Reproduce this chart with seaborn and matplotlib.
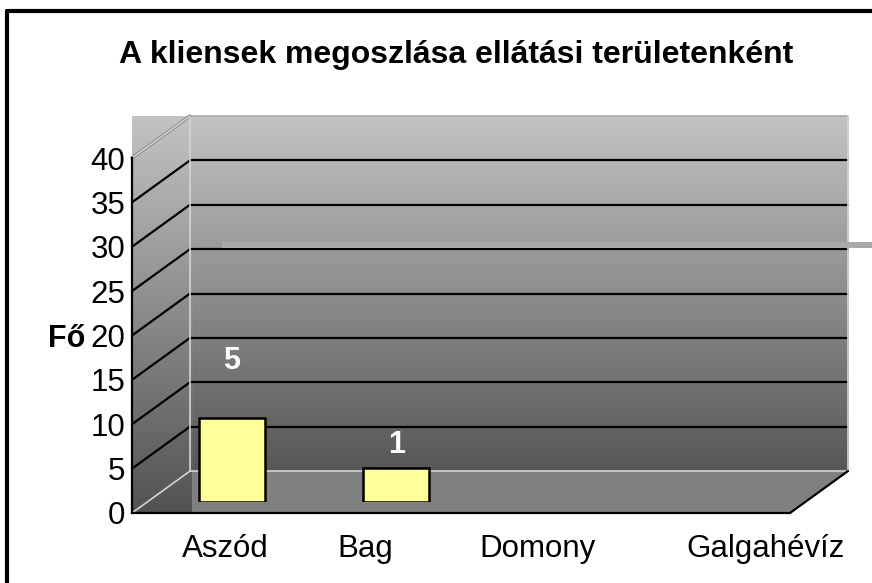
import numpy as np
import pandas as pd
import matplotlib
matplotlib.use("Agg")
import matplotlib.pyplot as plt
import matplotlib.transforms as mtransforms
from matplotlib.colors import LinearSegmentedColormap
from matplotlib.patches import Polygon
import seaborn as sns

# chart data
title = "A kliensek megoszlása ellátási területenként"
y_label = "Fő"
areas = ["Aszód", "Bag", "Domony", "Galgahévíz"]
bar_heights = [9.4, 3.8, 0.0, 0.0]     # bar tops as drawn against the axis
data_labels = ["5", "1", "", ""]       # numbers printed above the bars
y_ticks = [0, 5, 10, 15, 20, 25, 30, 35, 40]

W, H = 872, 583
sns.set_theme(style="white")
plt.rcParams["font.family"] = ["Liberation Sans", "DejaVu Sans"]

# pixel geometry of the fake 3D box (top-left origin)
FX0, FX1 = 132, 790          # front plane left/right
FY0, FY40 = 513, 158         # front plane y of 0 and 40
DX, DY = 58, -42             # depth offset to the back wall
BAR_DX, BAR_DY = 17.5, -11.5 # depth where the bars stand
LABEL_FACTOR = 1.68          # data label height relative to bar
label_shift = [11, -14, -6, 58]


def fig_rect(x0, y0, x1, y1):
    return [x0 / W, 1 - y1 / H, (x1 - x0) / W, (y1 - y0) / H]


def yf(v):
    return FY0 - v * (FY0 - FY40) / 40


fig = plt.figure(figsize=(W / 100, H / 100), dpi=100, facecolor="white")

# background decoration in pixel coords
deco = fig.add_axes([0, 0, 1, 1], zorder=0)
deco.set_xlim(0, W)
deco.set_ylim(H, 0)
deco.axis("off")

grad = np.linspace(0, 1, 256).reshape(-1, 1)
wall_cmap = LinearSegmentedColormap.from_list("wall", ["#c3c3c3", "#575757"])
side_cmap = LinearSegmentedColormap.from_list("side", ["#c3c3c3", "#525252"])

bx0, bx1 = FX0 + DX, FX1 + DX
by0, by40 = FY0 + DY, FY40 + DY
deco.imshow(grad, cmap=wall_cmap, extent=[bx0, bx1, by0, by40], aspect="auto", zorder=1)
# side wall, including the corner above it
deco.imshow(grad, cmap=side_cmap, extent=[FX0, bx0 + 2, FY0, by40], aspect="auto", zorder=1)

floor = Polygon([(bx0 + 2, by0), (bx1, by0), (FX1, FY0), (bx0 + 2, FY0)],
                closed=True, facecolor="#808080", edgecolor="none", zorder=2)
deco.add_patch(floor)

# grid lines on the side and back walls
for v in y_ticks:
    if v in (0, 40):
        continue
    deco.plot([FX0, bx0], [yf(v), yf(v) + DY], color="black", lw=1.6, zorder=3)
    deco.plot([bx0, bx1], [yf(v) + DY, yf(v) + DY], color="black", lw=1.6, zorder=3)

edge = "#d4d4d4"
deco.plot([FX0, bx0], [FY0, by0], color=edge, lw=1.2, zorder=3)
deco.plot([FX0, bx0], [FY40, by40], color="#8c8c8c", lw=2.4, zorder=3)
deco.plot([FX0, bx0], [FY40, by40], color="#e8e8e8", lw=0.8, zorder=3)
deco.plot([bx0, bx0], [by40, by0], color=edge, lw=1.2, zorder=3)
deco.plot([bx0, bx1], [by0, by0], color=edge, lw=1.2, zorder=3)
deco.plot([bx0, bx1], [by40, by40], color="#a8a8a8", lw=1.2, zorder=3)
deco.plot([bx1, bx1], [by40, by0], color=edge, lw=1.2, zorder=3)
deco.plot([FX1, bx1], [FY0, by0], color="black", lw=1.6, zorder=3)

# stray grey band at the 30 level
deco.fill_between([222, W], yf(30) - 5, yf(30) + 1, color="#a9a9a9", lw=0, zorder=3)

# outer frame
deco.plot([7, 7], [11, H], color="black", lw=3, zorder=3, clip_on=False)
deco.plot([7, W], [11, 11], color="black", lw=3, zorder=3, clip_on=False)

# front plane with the axes
ax = fig.add_axes(fig_rect(FX0, FY40, FX1, FY0), zorder=1)
ax.set_facecolor("none")
ax.set_xlim(-0.5, len(areas) - 0.5)
ax.set_ylim(0, 40)
for s in ["top", "right"]:
    ax.spines[s].set_visible(False)
for s in ["left", "bottom"]:
    ax.spines[s].set_color("black")
    ax.spines[s].set_linewidth(1.6)
ax.set_yticks(y_ticks)
ax.set_yticklabels([str(t) for t in y_ticks], fontsize=22.5)
ax.set_xticks(np.arange(len(areas)) + 0.5)
ax.set_xticklabels([])
ax.tick_params(axis="y", direction="out", length=5, width=1.2, pad=0, colors="black")
ax.tick_params(axis="x", direction="out", length=5, width=1.2, colors="black")
ax.set_ylabel(y_label, rotation=0, fontsize=22, fontweight="bold", color="black",
              ha="center", va="center")
ax.yaxis.set_label_coords(-0.099, 0.49)

for i, name in enumerate(areas):
    off = mtransforms.ScaledTranslation(label_shift[i] / 100, -44 / 100, fig.dpi_scale_trans)
    ax.text(i, 0, name, transform=ax.transData + off, ha="center", va="baseline",
            fontsize=22.5, color="black")

# bars, sitting a little way into the box
bar_ax = fig.add_axes(fig_rect(FX0 + BAR_DX, FY40 + BAR_DY, FX1 + BAR_DX, FY0 + BAR_DY), zorder=2)
bar_ax.set_facecolor("none")
df = pd.DataFrame({"area": areas, "height": bar_heights})
sns.barplot(data=df, x="area", y="height", order=areas, color="#ffff99",
            saturation=1, edgecolor="black", linewidth=1.8, width=0.4, ax=bar_ax)
for p in bar_ax.patches:
    if p.get_height() == 0:
        p.set_visible(False)
bar_ax.set_xlim(-0.5, len(areas) - 0.5)
bar_ax.set_ylim(0, 40)
bar_ax.axis("off")

for i, (h, lab) in enumerate(zip(bar_heights, data_labels)):
    if lab:
        bar_ax.text(i, h * LABEL_FACTOR, lab, ha="center", va="center",
                    color="white", fontsize=22, fontweight="bold")

fig.text(456 / W, 1 - 63 / H, title, ha="center", va="baseline",
         fontsize=23, fontweight="bold", color="black")

fig.savefig("out.png", dpi=100, facecolor="white")
